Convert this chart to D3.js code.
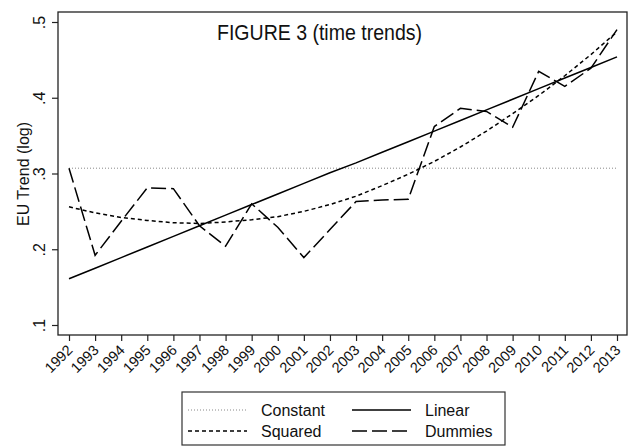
<!DOCTYPE html>
<html>
<head>
<meta charset="utf-8">
<script src="https://cdn.jsdelivr.net/npm/d3@7"></script>
<style>
  body { margin: 0; background: #fff; }
  text { font-family: "Liberation Sans", Arial, sans-serif; fill: #111; }
</style>
</head>
<body>
<script>
// values
let Years = [1992, 1993, 1994, 1995, 1996, 1997, 1998, 1999, 2000, 2001, 2002,
             2003, 2004, 2005, 2006, 2007, 2008, 2009, 2010, 2011, 2012, 2013];
let ConstantVals = [0.307, 0.307, 0.307, 0.307, 0.307, 0.307, 0.307, 0.307, 0.307, 0.307, 0.307,
                    0.307, 0.307, 0.307, 0.307, 0.307, 0.307, 0.307, 0.307, 0.307, 0.307, 0.307];
let LinearVals = [0.161, 0.175, 0.189, 0.203, 0.217, 0.231, 0.245, 0.259, 0.273, 0.287, 0.301,
                  0.314, 0.328, 0.342, 0.356, 0.370, 0.384, 0.398, 0.412, 0.426, 0.440, 0.454];
let SquaredVals = [0.256, 0.248, 0.242, 0.238, 0.235, 0.234, 0.236, 0.239, 0.243, 0.250, 0.259,
                   0.270, 0.284, 0.299, 0.316, 0.335, 0.356, 0.379, 0.403, 0.429, 0.457, 0.487];
let DummiesVals = [0.307, 0.192, 0.237, 0.281, 0.280, 0.231, 0.204, 0.260, 0.229, 0.189, 0.226,
                   0.263, 0.265, 0.266, 0.362, 0.386, 0.382, 0.361, 0.435, 0.415, 0.439, 0.490];
let YTicks = [0.1, 0.2, 0.3, 0.4, 0.5];
let YTickLabels = [".1", ".2", ".3", ".4", ".5"];
let SeriesNames = ["Constant", "Linear", "Squared", "Dummies"];

let SvgWidth = 632;
let SvgHeight = 446;

let Svg = d3.select("body")
    .append("svg")
    .attr("width", SvgWidth)
    .attr("height", SvgHeight)

let Frame = { Left: 58, Right: 627, Top: 12, Bottom: 335 };

let xScale = d3.scaleLinear()
    .domain([1992, 2013])
    .range([69, 617]);

let yScale = d3.scaleLinear()
    .domain([0.1, 0.5])
    .range([325, 22]);

// line styles per series
let Styles = {
    Constant: { stroke: "#888", width: 1, dash: "1,2" },
    Linear: { stroke: "#000", width: 1.5, dash: null },
    Squared: { stroke: "#000", width: 1.5, dash: "4,3" },
    Dummies: { stroke: "#000", width: 1.5, dash: "15,5" }
};
let SeriesVals = {
    Constant: ConstantVals,
    Linear: LinearVals,
    Squared: SquaredVals,
    Dummies: DummiesVals
};

// plot region frame
Svg.append("rect")
    .attr("x", Frame.Left)
    .attr("y", Frame.Top)
    .attr("width", Frame.Right - Frame.Left)
    .attr("height", Frame.Bottom - Frame.Top)
    .attr("fill", "none")
    .attr("stroke", "#222")
    .attr("stroke-width", 1.3);

// y axis
let LeftAxis = d3.axisLeft(yScale)
    .tickValues(YTicks)
    .tickSize(6)
    .tickFormat((d, i) => YTickLabels[i]);

let yAxisG = Svg.append("g")
    .attr("transform", `translate(${Frame.Left},0)`)
    .call(LeftAxis);
yAxisG.select(".domain").remove();
yAxisG.selectAll(".tick line").attr("stroke", "#222").attr("stroke-width", 1.2);
yAxisG.selectAll(".tick text")
    .attr("x", 0).attr("y", 0).attr("dy", null)
    .attr("transform", "translate(-13,0) rotate(-90)")
    .attr("text-anchor", "middle")
    .attr("font-size", 16)
    .attr("fill", "#111");

// x axis
let BottomAxis = d3.axisBottom(xScale)
    .tickValues(Years)
    .tickSize(6)
    .tickFormat(d => String(d));

let xAxisG = Svg.append("g")
    .attr("transform", `translate(0,${Frame.Bottom})`)
    .call(BottomAxis);
xAxisG.select(".domain").remove();
xAxisG.selectAll(".tick line").attr("stroke", "#222").attr("stroke-width", 1.2);
xAxisG.selectAll(".tick text")
    .attr("x", 0).attr("y", 0).attr("dy", null)
    .attr("transform", "translate(4,16) rotate(-45)")
    .attr("text-anchor", "end")
    .attr("font-size", 14.5)
    .attr("fill", "#111");

// series lines
let LineGen = d3.line()
    .x(d => xScale(d.year))
    .y(d => yScale(d.value));

SeriesNames.forEach(function (name) {
    let pts = Years.map((y, i) => ({ year: y, value: SeriesVals[name][i] }));
    let st = Styles[name];
    Svg.append("path")
        .datum(pts)
        .attr("d", LineGen)
        .attr("fill", "none")
        .attr("stroke", st.stroke)
        .attr("stroke-width", st.width)
        .attr("stroke-dasharray", st.dash);
});

// title
Svg.append("text")
    .attr("x", 217)
    .attr("y", 40)
    .attr("font-size", 22)
    .attr("textLength", 205)
    .attr("lengthAdjust", "spacingAndGlyphs")
    .text("FIGURE 3 (time trends)");

// y label
Svg.append("text")
    .attr("transform", "translate(29,174) rotate(-90)")
    .attr("text-anchor", "middle")
    .attr("font-size", 16)
    .text("EU Trend (log)");

// legend
let Legend = Svg.append("g");
Legend.append("rect")
    .attr("x", 182)
    .attr("y", 392)
    .attr("width", 323)
    .attr("height", 53)
    .attr("fill", "#fff")
    .attr("stroke", "#333")
    .attr("stroke-width", 1.2);

let LegendPos = {
    Constant: { x: 188, y: 410 },
    Linear: { x: 352, y: 410 },
    Squared: { x: 188, y: 431 },
    Dummies: { x: 352, y: 431 }
};

SeriesNames.forEach(function (name) {
    let p = LegendPos[name];
    let st = Styles[name];
    Legend.append("line")
        .attr("x1", p.x).attr("x2", p.x + 59)
        .attr("y1", p.y).attr("y2", p.y)
        .attr("stroke", st.stroke)
        .attr("stroke-width", st.width)
        .attr("stroke-dasharray", st.dash);
    Legend.append("text")
        .attr("x", p.x + 73)
        .attr("y", p.y + 5.5)
        .attr("font-size", 16)
        .text(name);
});
</script>
</body>
</html>
